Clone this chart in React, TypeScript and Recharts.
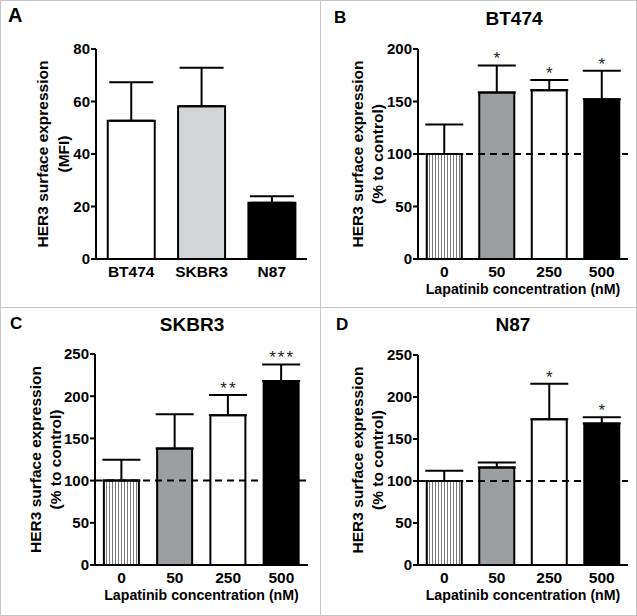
import React from 'react';
import { BarChart, Bar, XAxis, YAxis, Cell, ErrorBar, ReferenceLine, LabelList, Label } from 'recharts';

// ---- data ----
const cellLines = ['BT474', 'SKBR3', 'N87'];
const mfiMean = [52.7, 58.2, 21.4];
const mfiSd = [14.6, 14.7, 2.5];
const cellLineFills = ['#ffffff', '#d3d4d6', '#000000'];

const concentrations = ['0', '50', '250', '500'];
const doseFills = ['url(#vstripes)', '#9d9ea1', '#ffffff', '#000000'];

const bt474Mean = [100, 158.6, 160.8, 152.2];
const bt474Sd = [28.0, 25.8, 9.6, 27.1];
const bt474Sig = ['', '*', '*', '*'];

const skbr3Mean = [100, 137.9, 177.5, 217.9];
const skbr3Sd = [24.8, 40.8, 23.8, 19.8];
const skbr3Sig = ['', '', '**', '***'];

const n87Mean = [100, 116.1, 173.5, 168.4];
const n87Sd = [12.1, 5.9, 42.4, 7.5];
const n87Sig = ['', '', '*', '*'];

const ticksA = [0, 20, 40, 60, 80];
const ticksB = [0, 50, 100, 150, 200];
const ticksCD = [0, 50, 100, 150, 200, 250];

const FONT = '"Liberation Sans", Arial, Helvetica, sans-serif';

function build(cats: string[], mean: number[], sd: number[], sig?: string[]) {
  return cats.map((c, i) => ({ cat: c, mean: mean[i], err: [0, sd[i]], sd: sd[i], sig: sig ? sig[i] : '' }));
}

type PanelProps = {
  data: any[];
  fills: string[];
  left: number; top: number; width: number; height: number;
  plotLeft: number; plotRight: number; plotTop: number; xAxisHeight: number;
  domain: [number, number]; ticks: number[];
  yLabel: [string, string]; yOff: [number, number];
  xLabel?: string;
  capWidth: number;
  refLine?: boolean;
};

function Panel(p: PanelProps) {
  const renderYLabel = (props: any) => {
    const vb = props.viewBox || {};
    const axisX = (vb.x ?? 0) + (vb.width ?? 0);
    const cy = (vb.y ?? 0) + (vb.height ?? 0) / 2;
    const x1 = axisX - p.yOff[0];
    const x2 = axisX - p.yOff[1];
    return (
      <g>
        <text x={x1} y={cy} transform={`rotate(-90, ${x1}, ${cy})`} textAnchor="middle" dominantBaseline="central"
          style={{ fontFamily: FONT, fontWeight: 700, fontSize: 15.5 }} fill="#000">{p.yLabel[0]}</text>
        <text x={x2} y={cy} transform={`rotate(-90, ${x2}, ${cy})`} textAnchor="middle" dominantBaseline="central"
          style={{ fontFamily: FONT, fontWeight: 700, fontSize: 15.5 }} fill="#000">{p.yLabel[1]}</text>
      </g>
    );
  };
  const renderXLabel = (props: any) => {
    const vb = props.viewBox || {};
    const cx = (vb.x ?? 0) + (vb.width ?? 0) / 2;
    const y = (vb.y ?? 0) + 35;
    return (
      <text x={cx} y={y} textAnchor="middle" style={{ fontFamily: FONT, fontWeight: 700, fontSize: 14.2 }} fill="#000">
        {p.xLabel}
      </text>
    );
  };
  const renderStar = (props: any) => {
    const vb = props.viewBox || {};
    const x = props.x ?? vb.x;
    const y = props.y ?? vb.y;
    const w = props.width ?? vb.width;
    const h = props.height ?? vb.height;
    const idx = props.index;
    const d = p.data[idx];
    if (!d || !d.sig) return null;
    const pxPerUnit = Math.abs(h) / d.mean;
    const top = Math.min(y, y + h);
    const errTop = top - d.sd * pxPerUnit;
    return (
      <text x={x + w / 2 + 1} y={errTop - 1} textAnchor="middle"
        style={{ fontFamily: FONT, fontSize: 17, letterSpacing: 2 }} fill="#222">{d.sig}</text>
    );
  };
  const tickStyle = { fontFamily: FONT, fontWeight: 700, fontSize: 15, fill: '#000' };
  return (
    <div style={{ position: 'absolute', left: p.left, top: p.top, width: p.width, height: p.height }}>
      <BarChart
        width={p.width}
        height={p.height}
        data={p.data}
        margin={{ top: p.plotTop, right: p.width - p.plotRight, left: 0, bottom: 0 }}
        barCategoryGap="16.7%"
      >
        <XAxis dataKey="cat" height={p.xAxisHeight} tickLine={false} axisLine={{ stroke: '#000', strokeWidth: 2 }}
          tick={{ ...tickStyle, fontSize: 15.5 }} tickSize={6} tickMargin={1} interval={0}>
          {p.xLabel ? <Label content={renderXLabel} /> : null}
        </XAxis>
        <YAxis width={p.plotLeft} domain={p.domain} ticks={p.ticks} interval={0} allowDataOverflow
          axisLine={{ stroke: '#000', strokeWidth: 2 }} tickLine={{ stroke: '#000', strokeWidth: 2 }}
          tickSize={5} tickMargin={1} tick={tickStyle}>
          <Label content={renderYLabel} />
        </YAxis>
        <Bar dataKey="mean" stroke="#000" strokeWidth={2} isAnimationActive={false}>
          {p.data.map((d, i) => <Cell key={i} fill={p.fills[i]} />)}
          <ErrorBar dataKey="err" width={p.capWidth} strokeWidth={2} stroke="#000" direction="y" />
          <LabelList dataKey="sig" content={renderStar} />
        </Bar>
        {p.refLine ? <ReferenceLine y={100} stroke="#000" strokeWidth={2} strokeDasharray="7 5" /> : null}
      </BarChart>
    </div>
  );
}

export default function App() {
  const dataA = build(cellLines, mfiMean, mfiSd);
  const dataB = build(concentrations, bt474Mean, bt474Sd, bt474Sig);
  const dataC = build(concentrations, skbr3Mean, skbr3Sd, skbr3Sig);
  const dataD = build(concentrations, n87Mean, n87Sd, n87Sig);
  const letterStyle = { fontFamily: FONT, fontWeight: 700 } as const;
  return (
    <div style={{ position: 'absolute', left: 0, top: 0, width: 637, height: 616, background: '#fff', overflow: 'hidden' }}>
      <svg width={637} height={616} style={{ position: 'absolute', left: 0, top: 0 }}>
        <defs>
          <pattern id="vstripes" patternUnits="userSpaceOnUse" width={3} height={10}>
            <rect x={0} y={0} width={3} height={10} fill="#ffffff" />
            <line x1={1.5} y1={0} x2={1.5} y2={10} stroke="#7a7a7a" strokeWidth={1} />
          </pattern>
        </defs>
        <rect x={0.5} y={0.5} width={636} height={615} fill="none" stroke="#c4c4c4" strokeWidth={1} />
        <line x1={320.5} y1={0} x2={320.5} y2={616} stroke="#c4c4c4" strokeWidth={1} />
        <line x1={0} y1={307.5} x2={637} y2={307.5} stroke="#c4c4c4" strokeWidth={1} />
        <text x={8} y={22} style={{ ...letterStyle, fontSize: 20 }}>A</text>
        <text x={334} y={23} style={{ ...letterStyle, fontSize: 17 }}>B</text>
        <text x={10} y={329} style={{ ...letterStyle, fontSize: 17 }}>C</text>
        <text x={336} y={330} style={{ ...letterStyle, fontSize: 17 }}>D</text>
        <text x={514} y={25} textAnchor="middle" style={{ ...letterStyle, fontSize: 19 }}>BT474</text>
        <text x={192} y={331} textAnchor="middle" style={{ ...letterStyle, fontSize: 19 }}>SKBR3</text>
        <text x={513} y={331} textAnchor="middle" style={{ ...letterStyle, fontSize: 19 }}>N87</text>
      </svg>
      <Panel data={dataA} fills={cellLineFills} left={0} top={0} width={320} height={307}
        plotLeft={96} plotRight={307} plotTop={49} xAxisHeight={48}
        domain={[0, 80]} ticks={ticksA} yLabel={['HER3 surface expression', '(MFI)']} yOff={[54, 33]}
        capWidth={22} />
      <Panel data={dataB} fills={doseFills} left={320} top={0} width={317} height={307}
        plotLeft={98} plotRight={308} plotTop={49} xAxisHeight={48}
        domain={[0, 200]} ticks={ticksB} yLabel={['HER3 surface expression', '(% to control)']} yOff={[61, 41]}
        xLabel="Lapatinib concentration (nM)" capWidth={19} refLine />
      <Panel data={dataC} fills={doseFills} left={0} top={307} width={320} height={309}
        plotLeft={95} plotRight={308} plotTop={47} xAxisHeight={51}
        domain={[0, 250]} ticks={ticksCD} yLabel={['HER3 surface expression', '(% to control)']} yOff={[60, 40]}
        xLabel="Lapatinib concentration (nM)" capWidth={19} refLine />
      <Panel data={dataD} fills={doseFills} left={320} top={307} width={317} height={309}
        plotLeft={98} plotRight={308} plotTop={48} xAxisHeight={51}
        domain={[0, 250]} ticks={ticksCD} yLabel={['HER3 surface expression', '(% to control)']} yOff={[61, 41]}
        xLabel="Lapatinib concentration (nM)" capWidth={19} refLine />
    </div>
  );
}
